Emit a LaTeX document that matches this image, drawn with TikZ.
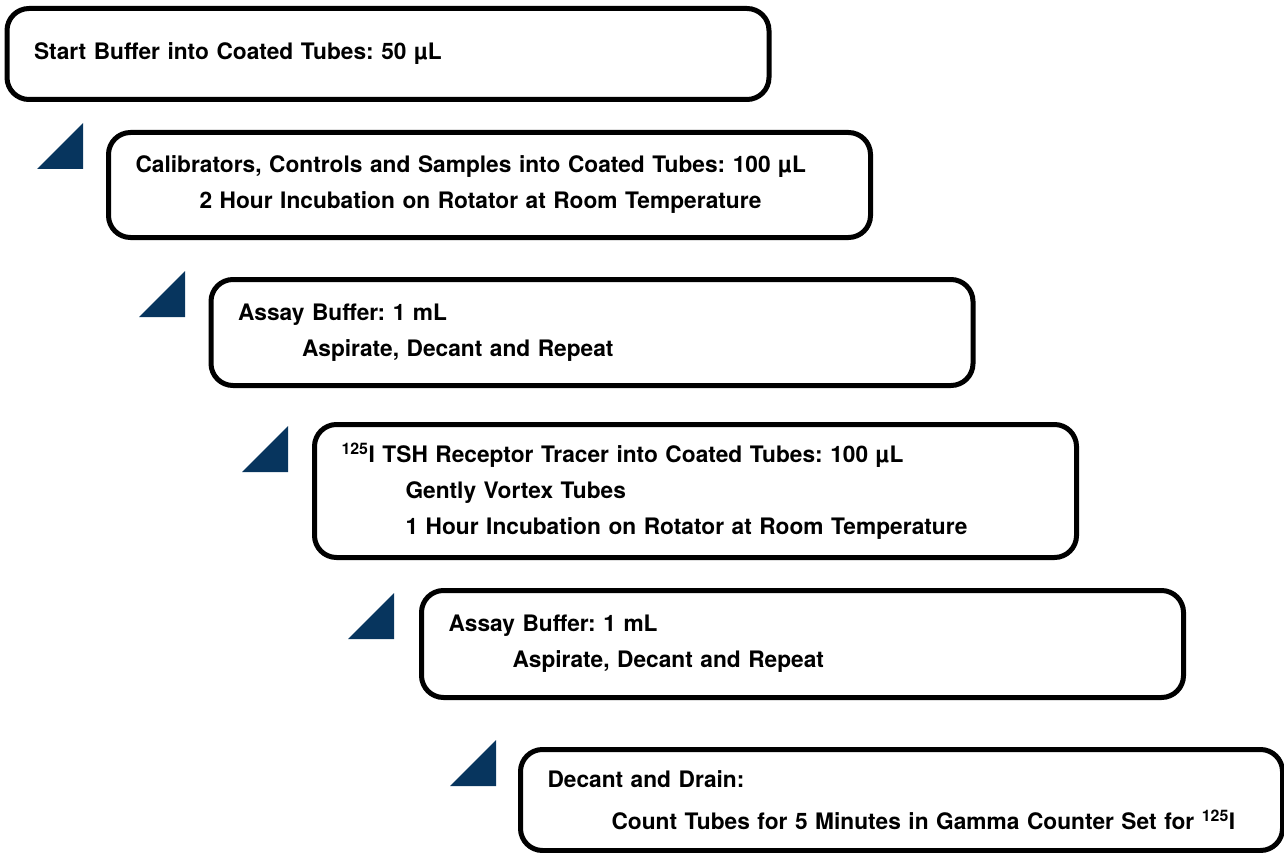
\documentclass[tikz,border=0pt]{standalone}
\usepackage{fontspec}
\setmainfont{TeX Gyre Heros}
\definecolor{stepblue}{HTML}{07355E}
\tikzset{
	stepbox/.style={draw, line width=5pt, rounded corners=22pt, minimum width=762pt, text width=708pt, inner xsep=27pt, align=left, font=\frenchspacing\bfseries\fontsize{22.7}{36}\selectfont},
	pointer/.style={fill=stepblue}
}
\newcommand{\ind}{\hspace*{64pt}}
\begin{document}
\begin{tikzpicture}[x=1pt,y=-1pt]
	\useasboundingbox (0,0) rectangle (1284,853);

	\node[stepbox, minimum height=91pt] (start) at (388,54) {Start Buffer into Coated Tubes: 50 µL};
	\node[stepbox, minimum height=105pt] (samples) at (489.5,185) {Calibrators, Controls and Samples into Coated Tubes: 100 µL\\ \ind 2 Hour Incubation on Rotator at Room Temperature};
	\node[stepbox, minimum height=106pt] (wash1) at (592,332.5) {Assay Buffer: 1 mL\\ \ind Aspirate, Decant and Repeat};
	\node[stepbox, minimum height=133pt] (tracer) at (695.5,491) {\textsuperscript{125}I TSH Receptor Tracer into Coated Tubes: 100 µL\\ \ind Gently Vortex Tubes\\ \ind 1 Hour Incubation on Rotator at Room Temperature};
	\node[stepbox, minimum height=107pt] (wash2) at (802.5,644) {Assay Buffer: 1 mL\\ \ind Aspirate, Decant and Repeat};
	\node[stepbox, minimum height=101pt] (count) at (901.5,800) {Decant and Drain:\\[6pt] \ind Count Tubes for 5 Minutes in Gamma Counter Set for \textsuperscript{125}I};

	\fill[pointer] (37,169) -- (83,169) -- (83,123) -- cycle;
	\fill[pointer] (139,317) -- (185,317) -- (185,271) -- cycle;
	\fill[pointer] (242,472) -- (288,472) -- (288,426) -- cycle;
	\fill[pointer] (348,639) -- (394,639) -- (394,593) -- cycle;
	\fill[pointer] (450,786) -- (496,786) -- (496,740) -- cycle;
\end{tikzpicture}
\end{document}
